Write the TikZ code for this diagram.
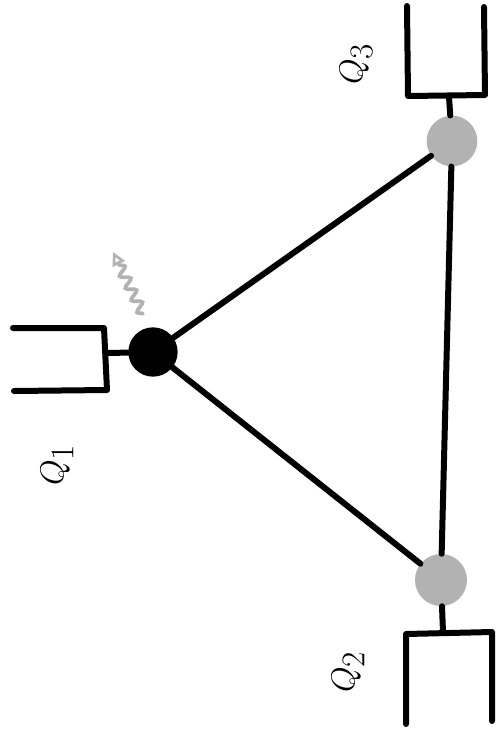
\documentclass[tikz,border=0pt]{standalone}
\usetikzlibrary{decorations.pathmorphing,arrows.meta}
\begin{document}
\begin{tikzpicture}[x=0.75pt,y=-0.75pt,
  stroke/.style={line width=4.5pt,line cap=round,line join=round,black},
  qubit/.style={circle,inner sep=0pt,minimum size=37pt},
  qlabel/.style={rotate=90,font=\fontsize{38}{42}\selectfont}]
\useasboundingbox (0,0) rectangle (496,744);
% qubits
\node[qubit,fill=black] (n1) at (153,352) {};
\node[qubit,fill=black!30,minimum size=38pt] (n3) at (452,141) {};
\node[qubit,fill=black!30,minimum size=39pt] (n2) at (441,580) {};
% edges
\draw[stroke] (n1) -- (n3);
\draw[stroke] (n1) -- (n2);
\draw[stroke] (n3) -- (n2);
% box 1
\coordinate (b1) at (108,353);
\draw[stroke] (13,328) -- (104,328) -- (107,390) -- (14,391);
\draw[stroke] (b1) -- (n1);
% box 3
\coordinate (b3) at (449,97);
\draw[stroke] (407,6) -- (408,96) -- (485,95) -- (484,7);
\draw[stroke] (b3) -- (n3);
% box 2
\coordinate (b2) at (443,632);
\draw[stroke] (406,724) -- (406,634) -- (492,632) -- (492,721);
\draw[stroke] (b2) -- (n2);
% photon
\coordinate (p0) at (143,314);
\coordinate (p1) at (113,252);
\draw[black!30,line width=2.8pt,line cap=round,
  decorate,decoration={snake,amplitude=3.5pt,segment length=10pt,post length=7pt},
  -{Triangle[open,length=10pt,width=10pt,line width=2pt]}] (p0) -- (p1);
% labels
\node[qlabel] (l1) at (57,465) {$Q_1$};
\node[qlabel] (l3) at (356,64) {$Q_3$};
\node[qlabel] (l2) at (348,672) {$Q_2$};
\end{tikzpicture}
\end{document}
